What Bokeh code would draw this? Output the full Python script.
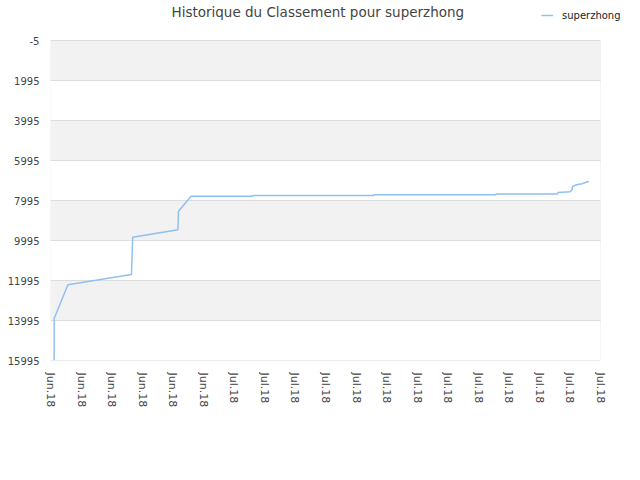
from bokeh.plotting import figure
from bokeh.models import Range1d, FixedTicker, BoxAnnotation, Legend, LegendItem, Label
from bokeh.embed import file_html
from bokeh.resources import INLINE

# ---- data ----
x_idx = [0.12, 0.12, 0.57, 2.65, 2.69, 4.17, 4.19, 4.60, 6.60, 6.62, 10.56, 10.58,
         14.57, 14.59, 16.59, 16.61, 17.00, 17.07, 17.08, 17.22, 17.40, 17.62]
rank = [15995, 13895, 12210, 11695, 9830, 9460, 8530, 7780, 7780, 7745, 7745, 7710,
        7710, 7670, 7670, 7590, 7560, 7460, 7295, 7210, 7160, 7030]
tick_pos = list(range(19))
tick_labels = ["Jun.18"] * 6 + ["Jul.18"] * 13
y_ticks = [-5, 1995, 3995, 5995, 7995, 9995, 11995, 13995, 15995]
y_tick_labels = [str(v) for v in y_ticks]
series_name = "superzhong"
title_text = "Historique du Classement pour superzhong"

FONT = "DejaVu Sans"
GRID = "#dddddd"

x0, x1 = tick_pos[0], tick_pos[-1]
y_top, y_bot = y_ticks[0], y_ticks[-1]
px_x = (x1 - x0) / 550.0          # data units per pixel (x)
px_y = (y_bot - y_top) / 320.0    # data units per pixel (y)

# the canvas frame extends 40px above and right of the drawn plot area,
# so that the title and legend can live inside it
p = figure(width=640, height=480, output_backend="svg", toolbar_location=None,
           title=None,
           x_range=Range1d(x0, x1 + 40 * px_x),
           y_range=Range1d(y_bot, y_top - 40 * px_y),
           min_border_left=50, min_border_right=0,
           min_border_top=0, min_border_bottom=120)
p.background_fill_color = "white"
p.border_fill_color = "white"
p.outline_line_color = None
p.xgrid.visible = False
p.ygrid.visible = False

# alternating bands of the plot area
for i in range(0, len(y_ticks) - 1, 2):
    p.add_layout(BoxAnnotation(left=x0, right=x1, bottom=y_ticks[i], top=y_ticks[i + 1],
                               fill_color="#f2f2f2", fill_alpha=1.0,
                               line_color=None, level="image"))
# horizontal grid lines
p.segment(x0=[x0] * len(y_ticks), x1=[x1] * len(y_ticks), y0=y_ticks, y1=y_ticks,
          line_color=GRID, line_width=1)
# plot area border
p.add_layout(BoxAnnotation(left=x0, right=x1, bottom=y_bot, top=y_top,
                           fill_alpha=0, line_color=GRID, line_width=1))

r = p.line(x_idx, rank, line_color="#90C0F0", line_width=1.5)

# axes
p.yaxis.ticker = FixedTicker(ticks=y_ticks)
p.yaxis.major_label_overrides = {t: l for t, l in zip(y_ticks, y_tick_labels)}
p.xaxis.ticker = FixedTicker(ticks=tick_pos)
p.xaxis.major_label_overrides = {t: l for t, l in zip(tick_pos, tick_labels)}
p.xaxis.major_label_orientation = "vertical"
for ax in (p.xaxis, p.yaxis):
    ax.axis_line_color = None
    ax.major_tick_line_color = None
    ax.minor_tick_line_color = None
    ax.major_tick_out = 0
    ax.major_tick_in = 0
    ax.minor_tick_out = 0
    ax.minor_tick_in = 0
    ax.major_label_text_font = FONT
    ax.major_label_text_color = "#444444"
p.yaxis.major_label_standoff = 11
p.xaxis.major_label_standoff = 12
p.yaxis.major_label_text_font_size = "10px"
p.xaxis.major_label_text_font_size = "11px"

# title
p.add_layout(Label(x=121, y=349, x_units="screen", y_units="screen",
                   text=title_text, text_align="left", text_baseline="alphabetic",
                   text_font=FONT, text_font_size="13.5px", text_color="#444444"))

# legend (top right)
legend = Legend(items=[LegendItem(label=series_name, renderers=[r])],
                location=(491, 339), orientation="horizontal",
                border_line_color=None, background_fill_alpha=0,
                padding=0, margin=0, spacing=0,
                glyph_width=12, glyph_height=12, label_height=12,
                label_standoff=9, label_text_font=FONT,
                label_text_font_size="10px", label_text_color="#222222")
p.add_layout(legend, "center")

open("out.html", "w").write(file_html(p, INLINE))
